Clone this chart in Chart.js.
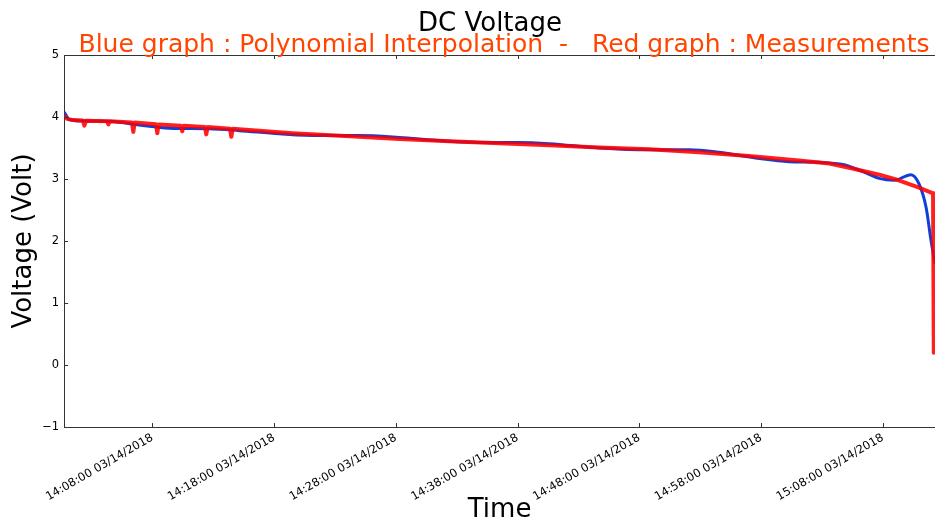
<!DOCTYPE html>
<html>
<head>
    <meta charset="utf-8">
    <title>DC Voltage</title>
    <script src="https://cdn.jsdelivr.net/npm/chart.js"></script>
    <style>
        html, body {
            margin: 0;
            padding: 0;
            background: white;
        }
        .chart-box {
            width: 935px;
            height: 522px;
        }
    </style>
</head>
<body>
    <div class="chart-box">
        <canvas id="voltChart"></canvas>
    </div>

    <script>
        // minutes after 14:00:00 on 03/14/2018
        const redMinutes = [0.76, 1.0, 1.5, 2.3, 2.42, 2.55, 4.3, 4.39, 4.5, 6.33, 6.44, 6.55,
            8.3, 8.41, 8.52, 10.35, 10.46, 10.57, 12.33, 12.43, 12.55, 14.38, 14.49, 14.6,
            19.5, 24.2, 28.3, 32.4, 36.5, 40.6, 44.7, 48.8, 52.9, 57.0, 61.1, 63.6,
            65.5, 67.7, 69.3, 70.97, 72.12, 72.18];
        const redVolts = [4.03, 3.97, 3.95, 3.945, 3.86, 3.94, 3.93, 3.88, 3.93, 3.91, 3.76, 3.91,
            3.885, 3.74, 3.88, 3.86, 3.77, 3.86, 3.84, 3.72, 3.84, 3.81, 3.68, 3.81,
            3.74, 3.69, 3.645, 3.61, 3.575, 3.545, 3.51, 3.48, 3.43, 3.37, 3.30, 3.25,
            3.17, 3.07, 2.98, 2.86, 2.77, 0.2];

        const blueMinutes = [0.76, 1.19, 2.42, 4.47, 6.93, 9.4, 12.68, 15.14, 18.43, 21.71,
            25.0, 28.28, 31.56, 34.85, 38.13, 40.6, 44.7, 48.8, 52.09, 54.55, 57.84,
            60.3, 62.76, 64.81, 66.46, 67.69, 68.92, 70.3, 70.97, 71.55, 71.96, 72.28];
        const blueVolts = [4.08, 3.96, 3.935, 3.93, 3.87, 3.82, 3.81, 3.78, 3.73, 3.70,
            3.70, 3.67, 3.62, 3.59, 3.59, 3.57, 3.50, 3.47, 3.47, 3.43, 3.33,
            3.28, 3.27, 3.23, 3.11, 3.01, 2.98, 3.07, 2.92, 2.54, 2.0, 1.63];

        const xTicks = [8, 18, 28, 38, 48, 58, 68];
        const yTicks = [-1, 0, 1, 2, 3, 4, 5];
        const xMin = 0.76, xMax = 72.28;

        function timeLabel(m) {
            const h = 14 + Math.floor(m / 60);
            const mm = Math.round(m % 60);
            return h + ':' + String(mm).padStart(2, '0') + ':00 03/14/2018';
        }

        // titles + inward ticks + top frame line, like the old matplotlib look
        const decor = {
            id: 'decor',
            afterDraw(chart) {
                const ctx = chart.ctx;
                const a = chart.chartArea;
                const xs = chart.scales.x, ys = chart.scales.y;
                ctx.save();
                ctx.strokeStyle = '#333';
                ctx.lineWidth = 1;
                ctx.beginPath();
                ctx.moveTo(a.left, a.top + 0.5);
                ctx.lineTo(a.right, a.top + 0.5);
                xs.ticks.forEach(t => {
                    const px = Math.round(xs.getPixelForValue(t.value)) + 0.5;
                    ctx.moveTo(px, a.bottom);
                    ctx.lineTo(px, a.bottom - 4);
                    ctx.moveTo(px, a.top);
                    ctx.lineTo(px, a.top + 4);
                });
                ys.ticks.forEach(t => {
                    const py = Math.round(ys.getPixelForValue(t.value)) + 0.5;
                    ctx.moveTo(a.left, py);
                    ctx.lineTo(a.left + 4, py);
                });
                ctx.stroke();

                ctx.textAlign = 'center';
                ctx.textBaseline = 'alphabetic';
                ctx.font = '26px "DejaVu Sans"';
                ctx.fillStyle = '#000';
                ctx.fillText('DC Voltage', 490, 31);
                ctx.font = '25px "DejaVu Sans"';
                ctx.fillStyle = '#ff4500';
                ctx.fillText('Blue graph : Polynomial Interpolation  -   Red graph : Measurements', 504, 52);
                ctx.restore();
            }
        };

        new Chart(document.getElementById('voltChart'), {
            type: 'line',
            data: {
                datasets: [{
                    label: 'Measurements',
                    data: redMinutes.map((m, i) => ({ x: m, y: redVolts[i] })),
                    borderColor: 'rgba(255, 0, 0, 0.88)',
                    borderWidth: 4,
                    borderJoinStyle: 'round',
                    pointRadius: 0,
                    tension: 0
                }, {
                    label: 'Polynomial Interpolation',
                    data: blueMinutes.map((m, i) => ({ x: m, y: blueVolts[i] })),
                    borderColor: '#0d3fd9',
                    borderWidth: 3,
                    pointRadius: 0,
                    cubicInterpolationMode: 'monotone'
                }]
            },
            options: {
                responsive: true,
                maintainAspectRatio: false,
                animation: false,
                layout: { padding: { top: 55, left: 4, right: 0, bottom: -4 } },
                plugins: {
                    legend: { display: false },
                    tooltip: { enabled: false }
                },
                scales: {
                    x: {
                        type: 'linear',
                        min: xMin,
                        max: xMax,
                        afterBuildTicks: s => { s.ticks = xTicks.map(v => ({ value: v })); },
                        grid: { display: false, drawTicks: false },
                        border: { display: true, color: '#333', width: 1 },
                        ticks: {
                            minRotation: 30,
                            maxRotation: 30,
                            padding: 4,
                            color: '#000',
                            font: { family: 'DejaVu Sans', size: 11.5 },
                            callback: v => timeLabel(v)
                        },
                        title: {
                            display: true,
                            text: 'Time',
                            color: '#000',
                            font: { family: 'DejaVu Sans', size: 26 },
                            padding: { top: -13, bottom: 0 }
                        }
                    },
                    y: {
                        min: -1,
                        max: 5,
                        afterBuildTicks: s => { s.ticks = yTicks.map(v => ({ value: v })); },
                        grid: { display: false, drawTicks: false },
                        border: { display: true, color: '#333', width: 1 },
                        ticks: {
                            padding: 5,
                            color: '#000',
                            font: { family: 'DejaVu Sans', size: 11.5 },
                            callback: v => v < 0 ? '\u2212' + Math.abs(v) : String(v)
                        },
                        title: {
                            display: true,
                            text: 'Voltage (Volt)',
                            color: '#000',
                            font: { family: 'DejaVu Sans', size: 26 },
                            padding: { top: 5, bottom: -3 }
                        }
                    }
                }
            },
            plugins: [decor]
        });
    </script>
</body>
</html>
